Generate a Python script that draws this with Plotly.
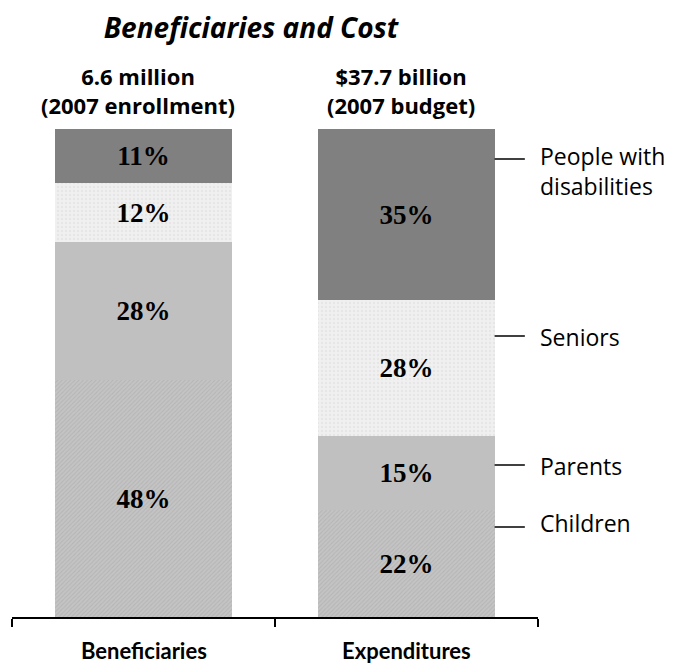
import plotly.graph_objects as go

categories = ["Beneficiaries", "Expenditures"]
headers = ["6.6 million<br>(2007 enrollment)", "$37.7 billion<br>(2007 budget)"]
series_names = ["Children", "Parents", "Seniors", "People with<br>disabilities"]
children = [48, 22]
parents = [28, 15]
seniors = [12, 28]
disabilities = [11, 35]
values = [children, parents, seniors, disabilities]

# label row positions (pixel y from top) for the right-hand labels
label_text_y = [523, 466, 337, 171]
label_line_y = [527, 465, 336, 159]

colors = ["#bdbdbd", "#c0c0c0", "#eeeeee", "#808080"]
patterns = [
    dict(shape="/", fgcolor="#a6a6a6", bgcolor="#c4c4c4", size=3, solidity=0.35),
    None,
    dict(shape=".", fgcolor="#dcdcdc", bgcolor="#f0f0f0", size=4, solidity=0.3),
    None,
]

W, H = 688, 664
L, R, T, B = 12, 150, 129, 47
plot_h = H - T - B

fig = go.Figure()
x = list(range(len(categories)))
bar_w = 0.67
for name, vals, col, pat in zip(series_names, values, colors, patterns):
    marker = dict(color=col, line=dict(width=0))
    if pat:
        marker["pattern"] = pat
    fig.add_trace(go.Bar(
        x=x, y=vals, name=name.replace("<br>", " "), width=bar_w,
        marker=marker,
        text=[f"{v}%" for v in vals], textposition="inside",
        insidetextanchor="middle", textangle=0,
        textfont=dict(family="Liberation Serif", size=27, color="black", weight="bold"),
        hoverinfo="skip", showlegend=False,
    ))

def py2paper(py):
    return (H - B - py) / plot_h

annotations = []
for xi, h in zip(x, headers):
    annotations.append(dict(x=xi - 0.02, y=py2paper(90), xref="x", yref="paper", text=h,
                            showarrow=False, xanchor="center", yanchor="middle",
                            font=dict(family="Open Sans", size=22, color="black", weight="bold")))
for xi, c in zip(x, categories):
    annotations.append(dict(x=xi, y=py2paper(650), xref="x", yref="paper", text=c,
                            showarrow=False, xanchor="center", yanchor="middle",
                            font=dict(family="Lato", size=22, color="black", weight="bold")))

shapes = []
right_edge = x[-1] + bar_w / 2
for name, ty, ly in zip(series_names, label_text_y, label_line_y):
    annotations.append(dict(x=x[-1] + 0.5, y=py2paper(ty), xref="x", yref="paper", text=name,
                            showarrow=False, xanchor="left", yanchor="middle", align="left",
                            font=dict(family="Open Sans", size=23, color="black")))
    shapes.append(dict(type="line", xref="x", yref="paper", x0=right_edge, x1=right_edge + 0.115,
                       y0=py2paper(ly), y1=py2paper(ly), line=dict(color="black", width=1.5)))

fig.update_layout(
    width=W, height=H,
    margin=dict(l=L, r=R, t=T, b=B),
    barmode="stack", barnorm="percent", bargap=0,
    plot_bgcolor="white", paper_bgcolor="white",
    title=dict(text="<b><i>Beneficiaries and Cost</i></b>", x=251 / W, xanchor="center",
               y=1 - 28 / H, yanchor="middle",
               font=dict(family="Open Sans", size=28, color="black")),
    xaxis=dict(range=[-0.5, 1.5], tickvals=[-0.5, 0.5, 1.5], showticklabels=False,
               ticks="outside", ticklen=8, tickcolor="black", tickwidth=1.5,
               showline=True, linecolor="black", linewidth=1.5, showgrid=False, zeroline=False),
    yaxis=dict(range=[0, 100], visible=False, showgrid=False),
    annotations=annotations, shapes=shapes,
)

fig.write_html("out.html")
